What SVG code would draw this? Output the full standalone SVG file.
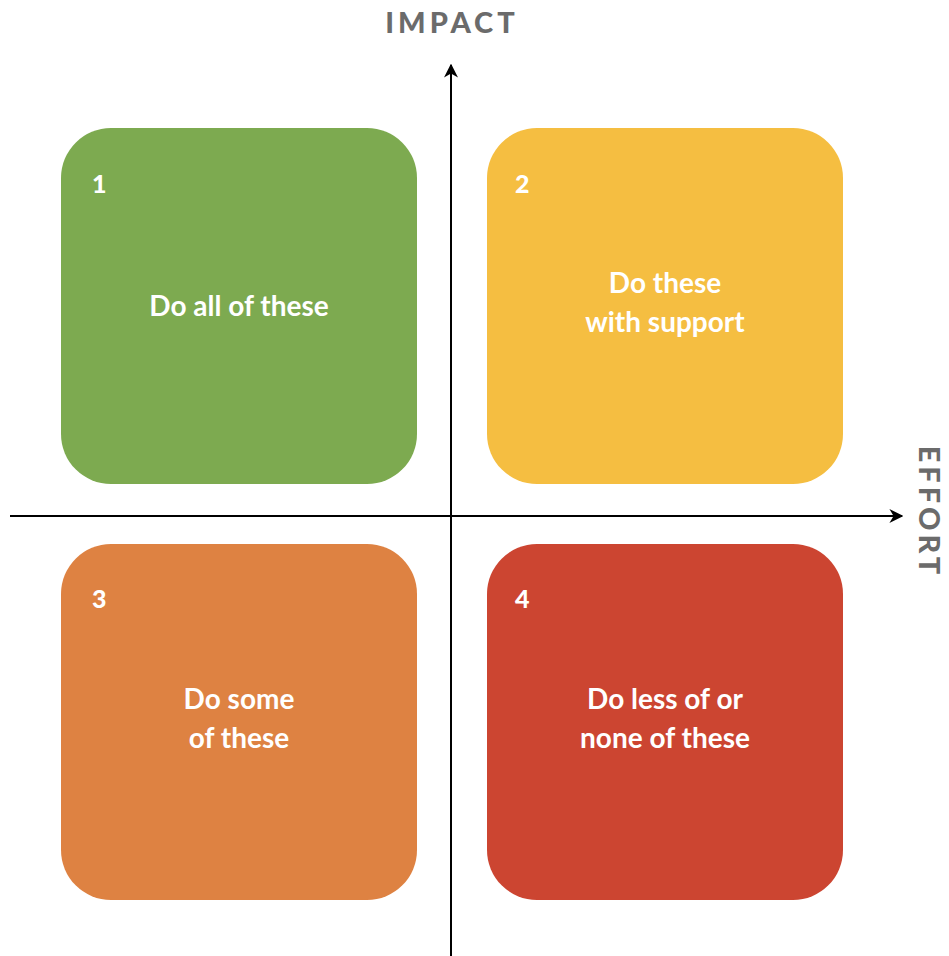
<svg xmlns="http://www.w3.org/2000/svg" width="949" height="956" viewBox="0 0 949 956">
<defs>
<style>
.box{stroke:none}
.num{font-family:Lato,"Liberation Sans",sans-serif;font-weight:900;font-size:25px;fill:#fff}
.lbl{font-family:Lato,"Liberation Sans",sans-serif;font-weight:700;font-size:28px;fill:#fff;text-anchor:middle}
.axis{font-family:Lato,"Liberation Sans",sans-serif;font-weight:900;font-size:29px;fill:#6b6b6b;letter-spacing:4px}
.ax{stroke:#000;stroke-width:2;fill:none}
</style>
<marker id="arr" viewBox="0 0 10 10" refX="9" refY="5" markerWidth="7" markerHeight="7" orient="auto" markerUnits="strokeWidth">
<path d="M0,0 L10,5 L0,10 L3,5 Z" fill="#000"/>
</marker>
</defs>
<rect width="949" height="956" fill="#fff"/>
<g id="q1">
<rect class="box" x="61" y="128" width="356" height="356" rx="50" fill="#7DAA50"/>
<text class="num" x="92" y="193">1</text>
<text class="lbl" x="239" y="316">Do all of these</text>
</g>
<g id="q2">
<rect class="box" x="487" y="128" width="356" height="356" rx="50" fill="#F5BE41"/>
<text class="num" x="515" y="193">2</text>
<text class="lbl" x="665" y="293">Do these</text>
<text class="lbl" x="665" y="332">with support</text>
</g>
<g id="q3">
<rect class="box" x="61" y="544" width="356" height="356" rx="50" fill="#DE8242"/>
<text class="num" x="92" y="608">3</text>
<text class="lbl" x="239" y="709">Do some</text>
<text class="lbl" x="239" y="748">of these</text>
</g>
<g id="q4">
<rect class="box" x="487" y="544" width="356" height="356" rx="50" fill="#CC4531"/>
<text class="num" x="515" y="608">4</text>
<text class="lbl" x="665" y="709">Do less of or</text>
<text class="lbl" x="665" y="748">none of these</text>
</g>
<g id="connectors">
<line class="ax" x1="10" y1="516" x2="902" y2="516" marker-end="url(#arr)"/>
<line class="ax" x1="451" y1="956" x2="451" y2="65" marker-end="url(#arr)"/>
</g>
<g id="labels">
<text class="axis" x="452" y="33" text-anchor="middle">IMPACT</text>
<text class="axis" transform="translate(919,512) rotate(90)" text-anchor="middle">EFFORT</text>
</g>
</svg>
